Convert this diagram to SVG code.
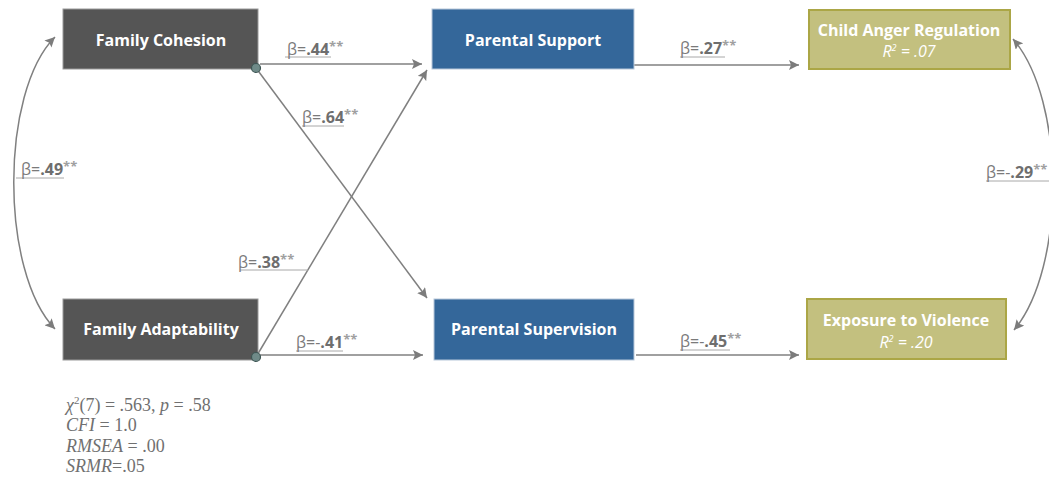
<svg xmlns="http://www.w3.org/2000/svg" width="1049" height="479" viewBox="0 0 1049 479">
<defs>
<marker id="ah" viewBox="0 0 10 10" refX="10" refY="5" markerWidth="10" markerHeight="10" markerUnits="userSpaceOnUse" orient="auto-start-reverse">
<path d="M0,0 L10,5 L0,10 L2,5 Z" fill="#7c7c7c"/>
</marker>
<style>
.gbox{fill:#555555;stroke:#9a9a9a;stroke-width:1}
.bbox{fill:#34679a;stroke:#b7c8da;stroke-width:1}
.obox{fill:#c3c07f;stroke:#aba646;stroke-width:2}
.nt{font-family:"Open Sans","DejaVu Sans",sans-serif;font-weight:700;font-size:16px;fill:#ffffff;text-anchor:middle}
.rt{font-family:"Open Sans","DejaVu Sans",sans-serif;font-style:italic;font-size:16px;fill:#ffffff;text-anchor:middle}
.ln{fill:none;stroke:#808080;stroke-width:1.5}
.lb{font-family:"Open Sans","DejaVu Sans",sans-serif;font-size:16px;fill:#7a7a7a}
.b{font-weight:700;fill:#6e6e6e}
.st{font-size:13px;fill:#a0a0a0;font-weight:700}
.ul{stroke:#a8a8a8;stroke-width:1}
.dot{fill:#6f8a88;stroke:#3e5654;stroke-width:1.2}
.fit{font-family:"Liberation Serif","Times New Roman",serif;font-size:18px;fill:#707070}
</style>
</defs>
<g id="connectors">
<line class="ln" x1="260" y1="64" x2="422" y2="64" marker-end="url(#ah)"/>
<line class="ln" x1="256" y1="68" x2="427" y2="298" marker-end="url(#ah)"/>
<line class="ln" x1="256" y1="357" x2="427" y2="70" marker-end="url(#ah)"/>
<line class="ln" x1="260" y1="355" x2="423" y2="355" marker-end="url(#ah)"/>
<line class="ln" x1="634" y1="65" x2="799" y2="65" marker-end="url(#ah)"/>
<line class="ln" x1="636" y1="355" x2="799" y2="355" marker-end="url(#ah)"/>
<path class="ln" d="M55,37 C0,92 0,272 55,329" marker-start="url(#ah)" marker-end="url(#ah)"/>
<path class="ln" d="M1013,39 C1066,100 1066,268 1014,330" marker-start="url(#ah)" marker-end="url(#ah)"/>
<g id="labels">
<line class="ul" x1="285" y1="57" x2="331" y2="57"/>
<text class="lb" x="287" y="55">β=<tspan class="b">.44</tspan><tspan class="st" dy="-4">**</tspan></text>
<line class="ul" x1="302" y1="126" x2="344" y2="126"/>
<text class="lb" x="302" y="123">β=<tspan class="b">.64</tspan><tspan class="st" dy="-4">**</tspan></text>
<line class="ul" x1="16" y1="178" x2="64" y2="178"/>
<text class="lb" x="21" y="175">β=<tspan class="b">.49</tspan><tspan class="st" dy="-4">**</tspan></text>
<line class="ul" x1="240" y1="270" x2="308" y2="270"/>
<text class="lb" x="238" y="268">β=<tspan class="b">.38</tspan><tspan class="st" dy="-4">**</tspan></text>
<line class="ul" x1="296" y1="351" x2="343" y2="351"/>
<text class="lb" x="296" y="348">β=-<tspan class="b">.41</tspan><tspan class="st" dy="-4">**</tspan></text>
<line class="ul" x1="680" y1="57" x2="725" y2="57"/>
<text class="lb" x="680" y="54">β=<tspan class="b">.27</tspan><tspan class="st" dy="-4">**</tspan></text>
<line class="ul" x1="680" y1="350" x2="730" y2="350"/>
<text class="lb" x="680" y="347">β=-<tspan class="b">.45</tspan><tspan class="st" dy="-4">**</tspan></text>
<line class="ul" x1="986" y1="181" x2="1049" y2="181"/>
<text class="lb" x="986" y="178">β=-<tspan class="b">.29</tspan><tspan class="st" dy="-4">**</tspan></text>
</g>
</g>
<g id="family-cohesion">
<rect class="gbox" x="63" y="9" width="195" height="60"/>
<text class="nt" x="161" y="46">Family Cohesion</text>
</g>
<g id="family-adaptability">
<rect class="gbox" x="63" y="299" width="195" height="61"/>
<text class="nt" x="161" y="335">Family Adaptability</text>
</g>
<g id="parental-support">
<rect class="bbox" x="432" y="9" width="202" height="60"/>
<text class="nt" x="533" y="46">Parental Support</text>
</g>
<g id="parental-supervision">
<rect class="bbox" x="434" y="299" width="200" height="61"/>
<text class="nt" x="534" y="335">Parental Supervision</text>
</g>
<g id="child-anger-regulation">
<rect class="obox" x="809" y="10" width="201" height="59"/>
<text class="nt" x="909" y="36">Child Anger Regulation</text>
<text class="rt" x="909" y="57">R<tspan font-size="9" dy="-6">2</tspan><tspan dy="6">  = .07</tspan></text>
</g>
<g id="exposure-to-violence">
<rect class="obox" x="807" y="299" width="199" height="60"/>
<text class="nt" x="906" y="326">Exposure to Violence</text>
<text class="rt" x="906" y="348">R<tspan font-size="9" dy="-6">2</tspan><tspan dy="6">  = .20</tspan></text>
</g>
<g id="ports">
<circle class="dot" cx="256" cy="68" r="4.5"/>
<circle class="dot" cx="256" cy="357" r="4.5"/>
</g>
<g id="fit-stats">
<text class="fit" x="66" y="411"><tspan font-style="italic">χ</tspan><tspan font-size="11" dy="-7">2</tspan><tspan dy="7">(7) = .563, </tspan><tspan font-style="italic">p</tspan> = .58</text>
<text class="fit" x="66" y="431"><tspan font-style="italic">CFI</tspan> = 1.0</text>
<text class="fit" x="66" y="452"><tspan font-style="italic">RMSEA</tspan> = .00</text>
<text class="fit" x="66" y="472"><tspan font-style="italic">SRMR</tspan>=.05</text>
</g>
</svg>
